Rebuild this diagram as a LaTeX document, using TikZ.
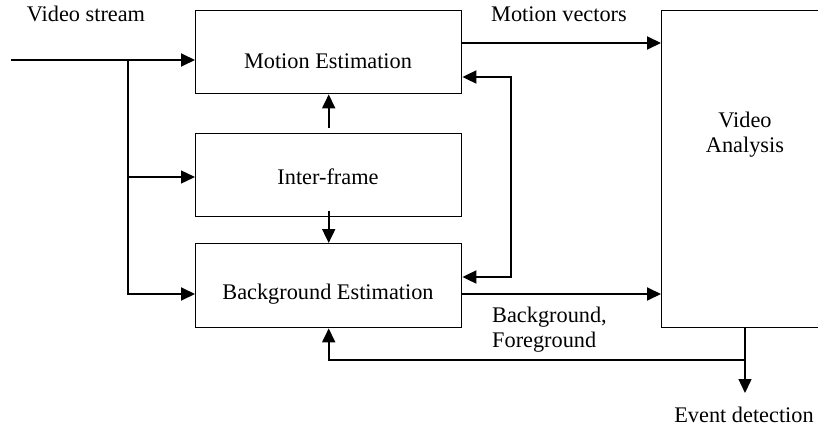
\documentclass[tikz,border=0pt]{standalone}
\usepackage{fontspec}
\setmainfont{Liberation Serif}
\usetikzlibrary{arrows.meta}
\begin{document}
\begin{tikzpicture}[x=1pt,y=-1pt,
  blk/.style={draw, line width=1.4pt, inner sep=0pt, anchor=north west},
  lbl/.style={font=\fontsize{22.3}{25}\selectfont, inner sep=0pt},
  flow/.style={line width=1.9pt, -{Triangle[length=14pt,width=13pt]}},
  thin/.style={line width=1.4pt},
]
\useasboundingbox (0,0) rectangle (818,428);

% processing blocks
\node[blk, minimum width=266pt, minimum height=83pt] (me)  at (195,10)  {};
\node[blk, minimum width=266pt, minimum height=83pt] (ifr) at (195,133) {};
\node[blk, minimum width=266pt, minimum height=84pt] (be)  at (195,243) {};
\node[blk, minimum width=172pt, minimum height=317pt] (va) at (661,10)  {};

% block captions
\node[lbl, anchor=base] (melbl)  at (328,68)  {Motion Estimation};
\node[lbl, anchor=base] (ifrlbl) at (328,184) {Inter-frame};
\node[lbl, anchor=base] (belbl)  at (328,299) {Background Estimation};
\node[lbl, anchor=base] (valbl1) at (745,127) {Video};
\node[lbl, anchor=base] (valbl2) at (745,152) {Analysis};

% signal labels
\node[lbl, anchor=base] (vslbl) at (86,22)  {Video stream};
\node[lbl, anchor=base] (mvlbl) at (559,22) {Motion vectors};
\node[lbl, anchor=base west] (bflbl1) at (492,322) {Background,};
\node[lbl, anchor=base west] (bflbl2) at (492,347) {Foreground};
\node[lbl, anchor=base] (evlbl) at (744,422) {Event detection};

% junction points
\coordinate (src)   at (11,60);
\coordinate (split) at (128,60);
\coordinate (tap)   at (745,360);
\coordinate (evt)   at (745,393);

% video stream distribution
\draw[flow] (src) -- (me.west |- src);
\draw[flow] (split) |- (be.west |- 0,294);
\draw[flow, thin] (128,177) -- (ifr.west |- 0,177);

% inter-frame outputs
\draw[flow] ([yshift=5pt]ifr.north) -- (me.south);
\draw[flow] ([yshift=6pt]ifr.south) -- (be.north);

% mutual feedback between estimators
\draw[line width=1.9pt, {Triangle[length=14pt,width=13pt]}-{Triangle[length=14pt,width=13pt]}]
  (me.east |- 0,77) -| (511,277) -- (be.east |- 0,277);

% outputs to analysis
\draw[flow] (me.east |- 0,43) -- (va.west |- 0,43);
\draw[flow] (be.east |- 0,294) -- (va.west |- 0,294);

% analysis feedback and event output
\draw[flow] (va.south -| tap) -- (tap) -| (be.south);
\draw[flow, thin] (tap) -- (evt);
\end{tikzpicture}
\end{document}
